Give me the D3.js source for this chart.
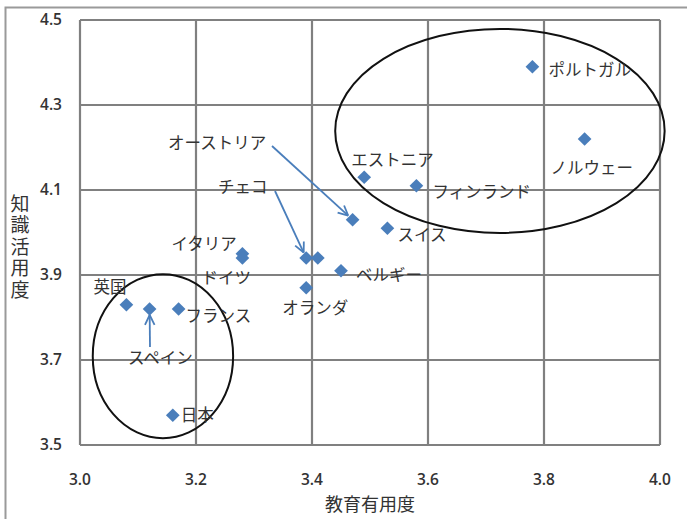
<!DOCTYPE html>
<html>
<head>
<meta charset="utf-8">
<script src="https://cdn.jsdelivr.net/npm/d3@7"></script>
<style>
  body { margin: 0; background: #fff; }
  svg { display: block; }
</style>
</head>
<body>
<script>
// data
var countries = ["ポルトガル", "ノルウェー", "エストニア", "フィンランド", "オーストリア", "スイス",
                 "チェコ", "", "ベルギー", "オランダ", "イタリア", "ドイツ", "フランス", "スペイン", "英国", "日本"];
var education = [3.78, 3.87, 3.49, 3.58, 3.47, 3.53, 3.39, 3.41, 3.45, 3.39, 3.28, 3.28, 3.17, 3.12, 3.08, 3.16];
var knowledge = [4.39, 4.22, 4.13, 4.11, 4.03, 4.01, 3.94, 3.94, 3.91, 3.87, 3.95, 3.94, 3.82, 3.82, 3.83, 3.57];
var xTicks = [3.0, 3.2, 3.4, 3.6, 3.8, 4.0];
var yTicks = [3.5, 3.7, 3.9, 4.1, 4.3, 4.5];

// ellipses drawn around groups (centre and radii in data units)
var ellipseCx = [3.724, 3.143];
var ellipseCy = [4.239, 3.709];
var ellipseRx = [0.284, 0.121];
var ellipseRy = [0.240, 0.193];

// label placement (pixels, relative to the point)
var labelDx = [16, -34, -13, 16, 0, 10, 0, 0, 15, -24, -71, -41, 7, 0, -33, 8];
var labelDy = [3, 29, -17, 6, 0, 7, 0, 0, 4, 20, -10, 20, 7, 0, -18, 0];

// arrow labels: text position and arrow start, in pixels
var arrowLabels = [
  {name: "オーストリア", tx: 168, ty: 143, sx: 272, sy: 146, target: 4},
  {name: "チェコ", tx: 218, ty: 187, sx: 275, sy: 191, target: 6},
  {name: "スペイン", tx: 128, ty: 358, sx: 150, sy: 347, target: 13}
];

var W = 687, H = 519;
var svg = d3.select("body").append("svg")
    .attr("width", W)
    .attr("height", H);

var x = d3.scaleLinear().domain([3.0, 4.0]).range([80, 660]);
var y = d3.scaleLinear().domain([3.5, 4.5]).range([445, 20]);

// outer frame
svg.append("path")
    .attr("d", "M5.5," + (H + 2) + "V7.5H" + (W + 2))
    .attr("fill", "none")
    .attr("stroke", "#9a9a9a")
    .attr("stroke-width", 2);

// grid
var grid = svg.append("g");
grid.selectAll("line.v")
    .data(xTicks)
    .enter()
    .append("line")
    .attr("x1", function(d) { return x(d); })
    .attr("x2", function(d) { return x(d); })
    .attr("y1", y(4.5))
    .attr("y2", y(3.5))
    .attr("stroke", "#808080")
    .attr("stroke-width", 2.2);
grid.selectAll("line.h")
    .data(yTicks)
    .enter()
    .append("line")
    .attr("x1", x(3.0))
    .attr("x2", x(4.0))
    .attr("y1", function(d) { return y(d); })
    .attr("y2", function(d) { return y(d); })
    .attr("stroke", "#808080")
    .attr("stroke-width", 2.2);

// tick labels
svg.selectAll("text.yt")
    .data(yTicks)
    .enter()
    .append("text")
    .text(function(d) { return d.toFixed(1); })
    .attr("x", 62)
    .attr("y", function(d) { return y(d); })
    .attr("dy", "0.35em")
    .attr("text-anchor", "end")
    .attr("font-family", "Open Sans, sans-serif")
    .attr("font-weight", 600)
    .attr("font-size", "15.5px")
    .attr("fill", "#333");
svg.selectAll("text.xt")
    .data(xTicks)
    .enter()
    .append("text")
    .text(function(d) { return d.toFixed(1); })
    .attr("x", function(d) { return x(d); })
    .attr("y", 480)
    .attr("dy", "0.35em")
    .attr("text-anchor", "middle")
    .attr("font-family", "Open Sans, sans-serif")
    .attr("font-weight", 600)
    .attr("font-size", "15.5px")
    .attr("fill", "#333");

// axis titles
svg.append("text")
    .text("教育有用度")
    .attr("x", 370)
    .attr("y", 505)
    .attr("dy", "0.35em")
    .attr("text-anchor", "middle")
    .attr("font-family", "Noto Sans CJK JP")
    .attr("font-size", "18px")
    .attr("fill", "#333");
svg.append("text")
    .text("知識活用度")
    .attr("x", 20)
    .attr("y", 194)
    .attr("writing-mode", "vertical-rl")
    .attr("text-orientation", "upright")
    .attr("letter-spacing", "2.5px")
    .attr("font-family", "Noto Sans CJK JP")
    .attr("font-size", "19px")
    .attr("fill", "#333");

// ellipses
svg.selectAll("ellipse")
    .data(ellipseCx)
    .enter()
    .append("ellipse")
    .attr("cx", function(d) { return x(d); })
    .attr("cy", function(d, i) { return y(ellipseCy[i]); })
    .attr("rx", function(d, i) { return x(d + ellipseRx[i]) - x(d); })
    .attr("ry", function(d, i) { return y(ellipseCy[i] - ellipseRy[i]) - y(ellipseCy[i]); })
    .attr("fill", "none")
    .attr("stroke", "#111")
    .attr("stroke-width", 2);

// points
var blue = "#4a7ebb";
svg.selectAll("path.pt")
    .data(education)
    .enter()
    .append("path")
    .attr("d", d3.symbol().type(d3.symbolDiamond2).size(120))
    .attr("transform", function(d, i) {
        return "translate(" + x(d) + "," + y(knowledge[i]) + ")";
    })
    .attr("fill", blue);

// point labels
var labelFont = "Noto Sans CJK JP";
var labelSize = "16.5px";
svg.selectAll("text.lbl")
    .data(countries)
    .enter()
    .append("text")
    .filter(function(d, i) {
        return d !== "" && !arrowLabels.some(function(a) { return a.target === i; });
    })
    .text(function(d) { return d; })
    .attr("x", function(d) { var i = countries.indexOf(d); return x(education[i]) + labelDx[i]; })
    .attr("y", function(d) { var i = countries.indexOf(d); return y(knowledge[i]) + labelDy[i]; })
    .attr("dy", "0.35em")
    .attr("font-family", labelFont)
    .attr("font-size", labelSize)
    .attr("fill", "#333");

// arrow labels
svg.selectAll("text.al")
    .data(arrowLabels)
    .enter()
    .append("text")
    .text(function(d) { return d.name; })
    .attr("x", function(d) { return d.tx; })
    .attr("y", function(d) { return d.ty; })
    .attr("dy", "0.35em")
    .attr("font-family", labelFont)
    .attr("font-size", labelSize)
    .attr("fill", "#333");

arrowLabels.forEach(function(a) {
    var ex = x(education[a.target]), ey = y(knowledge[a.target]);
    var ang = Math.atan2(ey - a.sy, ex - a.sx);
    // stop a little before the diamond
    var tx = ex - Math.cos(ang) * 6, ty = ey - Math.sin(ang) * 6;
    svg.append("line")
        .attr("x1", a.sx).attr("y1", a.sy)
        .attr("x2", tx).attr("y2", ty)
        .attr("stroke", blue)
        .attr("stroke-width", 1.8);
    [0.45, -0.45].forEach(function(da) {
        svg.append("line")
            .attr("x1", tx).attr("y1", ty)
            .attr("x2", tx - Math.cos(ang + da) * 11)
            .attr("y2", ty - Math.sin(ang + da) * 11)
            .attr("stroke", blue)
            .attr("stroke-width", 1.8);
    });
});
</script>
</body>
</html>
